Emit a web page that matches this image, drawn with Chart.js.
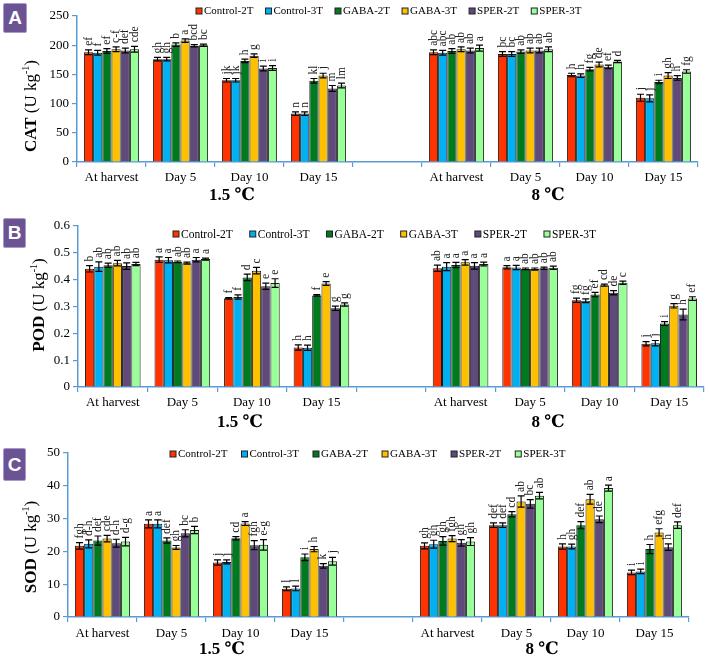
<!DOCTYPE html>
<html>
<head>
<meta charset="utf-8">
<script src="https://cdn.jsdelivr.net/npm/chart.js@4.4.1/dist/chart.umd.min.js"></script>
<style>
  html, body { margin: 0; padding: 0; background: #fff; }
  #wrap { position: relative; width: 709px; height: 661px; overflow: hidden; }
  .panel { position: absolute; left: 0; width: 709px; }
  .badge {
    position: absolute; background: #6b5394; border: 1.5px solid #a898cc;
    border-radius: 2px; color: #fff; font: bold 19px "Liberation Sans", Arial, sans-serif;
    display: flex; align-items: center; justify-content: center; box-sizing: border-box;
  }
</style>
</head>
<body>
<div id="wrap">
  <div class="panel" id="pA" style="top:0;height:215px"><canvas id="chartA"></canvas></div>
  <div class="panel" id="pB" style="top:215px;height:225px"><canvas id="chartB"></canvas></div>
  <div class="panel" id="pC" style="top:440px;height:221px"><canvas id="chartC"></canvas></div>
  <div class="badge" style="left:3px;top:3px;width:24px;height:30px">A</div>
  <div class="badge" style="left:3px;top:218px;width:23px;height:30px">B</div>
  <div class="badge" style="left:3px;top:448px;width:23px;height:33px">C</div>
</div>

<script>
// -------------------------
//        DATA
// -------------------------

const categories = ["At harvest", "Day 5", "Day 10", "Day 15", "", "At harvest", "Day 5", "Day 10", "Day 15"];
const seriesNames = ["Control-2T", "Control-3T", "GABA-2T", "GABA-3T", "SPER-2T", "SPER-3T"];
const seriesColors = ["#ff3300", "#00b0f0", "#007a1e", "#ffc000", "#604a7b", "#99ff99"];

// CAT (U kg-1), one row per series
const catMeans = [
    [188, 176, 140, 83, null, 188, 185, 149, 110],
    [187, 176, 140, 83, null, 187, 185, 148, 109],
    [190, 201, 173, 139, null, 190, 189, 159, 137],
    [193, 208, 182, 148, null, 193, 191, 167, 148],
    [191, 199, 160, 126, null, 191, 191, 163, 144],
    [193, 200, 161, 131, null, 195, 193, 172, 155]
];
const catErrors = [
    [4, 3, 3, 3, null, 4, 4, 3, 6],
    [4, 3, 3, 3, null, 4, 4, 3, 6],
    [4, 3, 3, 4, null, 4, 3, 3, 3],
    [4, 3, 3, 4, null, 4, 4, 4, 5],
    [4, 2, 4, 5, null, 4, 4, 3, 4],
    [5, 2, 4, 4, null, 5, 4, 2, 3]
];
// letters, one row per category
const catLetters = [
    ["ef", "f", "ef", "c-f", "def", "cde"],
    ["gh", "gh", "b", "a", "bcd", "bc"],
    ["jk", "jk", "h", "g", "i", "i"],
    ["n", "n", "kl", "j", "m", "lm"],
    [],
    ["abc", "abc", "ab", "ab", "ab", "a"],
    ["bc", "bc", "ab", "ab", "ab", "ab"],
    ["h", "h", "fg", "de", "ef", "d"],
    ["j", "j", "i", "gh", "h", "fg"]
];

// POD (U kg-1)
const podMeans = [
    [0.440, 0.474, 0.330, 0.147, null, 0.442, 0.446, 0.323, 0.161],
    [0.448, 0.472, 0.335, 0.146, null, 0.448, 0.445, 0.321, 0.163],
    [0.453, 0.466, 0.408, 0.341, null, 0.454, 0.440, 0.344, 0.236],
    [0.461, 0.461, 0.433, 0.385, null, 0.464, 0.439, 0.379, 0.302],
    [0.450, 0.474, 0.375, 0.293, null, 0.451, 0.442, 0.351, 0.270],
    [0.458, 0.476, 0.387, 0.307, null, 0.458, 0.444, 0.388, 0.329]
];
const podErrors = [
    [0.012, 0.010, 0.003, 0.010, null, 0.012, 0.006, 0.008, 0.008],
    [0.018, 0.010, 0.008, 0.010, null, 0.015, 0.008, 0.007, 0.010],
    [0.008, 0.003, 0.012, 0.003, null, 0.010, 0.003, 0.008, 0.007],
    [0.010, 0.004, 0.012, 0.007, null, 0.010, 0.004, 0.004, 0.008],
    [0.012, 0.008, 0.012, 0.008, null, 0.012, 0.004, 0.008, 0.020],
    [0.006, 0.004, 0.016, 0.006, null, 0.007, 0.006, 0.006, 0.007]
];
const podLetters = [
    ["b", "ab", "ab", "ab", "ab", "ab"],
    ["a", "a", "ab", "ab", "a", "a"],
    ["f", "f", "d", "c", "e", "e"],
    ["h", "h", "f", "e", "g", "g"],
    [],
    ["ab", "a", "a", "a", "a", "a"],
    ["a", "a", "ab", "ab", "ab", "ab"],
    ["fg", "fg", "ef", "cd", "de", "c"],
    ["j", "j", "i", "g", "h", "ef"]
];

// SOD (U kg-1)
const sodMeans = [
    [21.7, 28.4, 16.6, 8.6, null, 21.7, 28.0, 21.5, 13.6],
    [22.3, 28.4, 16.8, 8.7, null, 22.2, 28.0, 21.5, 13.9],
    [23.3, 23.3, 24.0, 18.2, null, 23.2, 31.3, 28.0, 20.7],
    [23.9, 21.2, 28.5, 20.7, null, 23.9, 35.2, 35.9, 25.8],
    [22.5, 25.5, 21.9, 15.6, null, 22.6, 34.5, 29.8, 21.3],
    [23.0, 26.5, 22.0, 17.0, null, 23.0, 37.0, 39.3, 28.0]
];
const sodErrors = [
    [1.0, 1.2, 0.8, 0.6, null, 0.9, 0.7, 0.8, 0.7],
    [1.2, 1.2, 0.6, 0.7, null, 1.2, 0.7, 0.7, 0.7],
    [1.4, 0.8, 0.5, 1.0, null, 1.3, 0.8, 1.1, 1.4],
    [1.0, 0.6, 0.6, 0.8, null, 0.9, 1.7, 1.5, 1.1],
    [1.2, 1.1, 1.4, 0.7, null, 1.0, 1.3, 1.0, 1.0],
    [1.3, 1.1, 1.6, 1.2, null, 1.2, 1.0, 0.9, 1.0]
];
const sodLetters = [
    ["fgh", "d-h", "def", "cde", "d-h", "d-g"],
    ["a", "a", "def", "gh", "bc", "b"],
    ["j", "j", "cd", "a", "fgh", "e-g"],
    ["l", "l", "i", "h", "k", "j"],
    [],
    ["gh", "gh", "gh", "fgh", "gh", "gh"],
    ["def", "def", "cd", "ab", "bc", "ab"],
    ["h", "gh", "def", "ab", "de", "a"],
    ["i", "i", "h", "efg", "h", "def"]
];

const groupNames = ["1.5 \u2103", "8 \u2103"];

// -------------------------
//      DRAWING HELPERS
// -------------------------

const SERIF = "'Liberation Serif', 'Times New Roman', 'DejaVu Serif', serif";
const AXIS_BLUE = "#5b9bd5";

const overlayPlugin = {
    id: "overlay",
    afterDatasetsDraw(chart) {
        const p = chart.options.plugins.overlay;
        const ctx = chart.ctx;
        const yScale = chart.scales.y;
        ctx.save();
        chart.data.datasets.forEach((ds, d) => {
            const meta = chart.getDatasetMeta(d);
            meta.data.forEach((bar, j) => {
                const v = ds.data[j];
                if (v === null) return;
                const e = p.errors[d][j];
                const yTop = yScale.getPixelForValue(v + e);
                const yBot = yScale.getPixelForValue(v - e);
                ctx.strokeStyle = "#000";
                ctx.lineWidth = 1.2;
                ctx.beginPath();
                ctx.moveTo(bar.x, yTop); ctx.lineTo(bar.x, yBot);
                ctx.moveTo(bar.x - 3.5, yTop); ctx.lineTo(bar.x + 3.5, yTop);
                ctx.moveTo(bar.x - 3.5, yBot); ctx.lineTo(bar.x + 3.5, yBot);
                ctx.stroke();

                const label = (p.letters[j] || [])[d];
                if (label) {
                    ctx.save();
                    ctx.translate(bar.x, yTop - 4);
                    ctx.rotate(-Math.PI / 2);
                    ctx.fillStyle = "#222";
                    ctx.font = "11.5px " + SERIF;
                    ctx.textAlign = "left";
                    ctx.textBaseline = "middle";
                    ctx.fillText(label, 0, 0);
                    ctx.restore();
                }
            });
        });
        ctx.restore();
    },
    afterDraw(chart) {
        const p = chart.options.plugins.overlay;
        const ctx = chart.ctx;
        ctx.save();

        // legend
        let x = p.legend.x;
        ctx.font = p.legend.size + "px " + SERIF;
        ctx.textBaseline = "middle";
        ctx.textAlign = "left";
        seriesNames.forEach((name, i) => {
            ctx.fillStyle = seriesColors[i];
            ctx.fillRect(x, p.legend.y - 3, 6, 6);
            ctx.strokeStyle = "#222";
            ctx.lineWidth = 1;
            ctx.strokeRect(x, p.legend.y - 3, 6, 6);
            ctx.fillStyle = "#000";
            ctx.fillText(name, x + 8, p.legend.y + 0.5);
            x += 8 + ctx.measureText(name).width + p.legend.gap;
        });

        // y axis title with superscript
        ctx.translate(p.title.x, p.title.y);
        ctx.rotate(-Math.PI / 2);
        const bold = "bold 17px " + SERIF, reg = "17px " + SERIF, sup = "10px " + SERIF;
        const parts = [[p.title.name, bold, 0], [" (U kg", reg, 0], ["-1", sup, -6], [")", reg, 0]];
        let w = 0;
        parts.forEach(([t, f]) => { ctx.font = f; w += ctx.measureText(t).width; });
        let tx = -w / 2;
        ctx.fillStyle = "#000";
        parts.forEach(([t, f, dy]) => {
            ctx.font = f;
            ctx.fillText(t, tx, dy);
            tx += ctx.measureText(t).width;
        });
        ctx.setTransform(chart.currentDevicePixelRatio, 0, 0, chart.currentDevicePixelRatio, 0, 0);

        // temperature group labels
        ctx.font = "bold 17px " + SERIF;
        ctx.textAlign = "center";
        ctx.fillStyle = "#000";
        p.groups.forEach((g, i) => ctx.fillText(groupNames[i], g.x, g.y));
        ctx.restore();
    }
};

function buildChart(canvasId, cfg) {
    const datasets = seriesNames.map((name, i) => ({
        label: name,
        data: cfg.means[i],
        backgroundColor: seriesColors[i],
        borderColor: "#1a1a1a",
        borderWidth: 1,
        categoryPercentage: 0.8,
        barPercentage: 1.0
    }));

    return new Chart(document.getElementById(canvasId), {
        type: "bar",
        data: { labels: categories, datasets },
        plugins: [overlayPlugin],
        options: {
            responsive: true,
            maintainAspectRatio: false,
            animation: false,
            layout: { padding: { top: cfg.plotTop, left: 0, right: 709 - cfg.right, bottom: 0 } },
            plugins: {
                legend: { display: false },
                tooltip: { enabled: false },
                overlay: {
                    errors: cfg.errors,
                    letters: cfg.letters,
                    legend: cfg.legend,
                    title: cfg.title,
                    groups: cfg.groups
                }
            },
            scales: {
                x: {
                    type: "category",
                    offset: true,
                    grid: { offset: true, drawOnChartArea: false, drawTicks: true, tickLength: 5, color: AXIS_BLUE, lineWidth: 1.2 },
                    border: { color: AXIS_BLUE, width: 1.5 },
                    ticks: { color: "#000", font: { family: SERIF, size: 13 }, padding: cfg.xPad, maxRotation: 0, autoSkip: false },
                    afterFit(s) { s.height = cfg.height - cfg.plotBottom; }
                },
                y: {
                    min: 0,
                    max: cfg.yMax,
                    grid: { drawOnChartArea: false, drawTicks: true, tickLength: 5, color: AXIS_BLUE, lineWidth: 1.2 },
                    border: { color: AXIS_BLUE, width: 1.5 },
                    ticks: { stepSize: cfg.yStep, color: "#000", font: { family: SERIF, size: 13 }, padding: 3 },
                    afterFit(s) { s.width = cfg.left; }
                }
            }
        }
    });
}

// -------------------------
//        PANELS
// -------------------------

buildChart("chartA", {
    means: catMeans, errors: catErrors, letters: catLetters,
    height: 215, left: 77, right: 698, plotTop: 16, plotBottom: 162, xPad: 3,
    yMax: 250, yStep: 50,
    legend: { x: 196, y: 11, size: 11, gap: 12 },
    title: { name: "CAT", x: 32, y: 106 },
    groups: [{ x: 232, y: 196 }, { x: 548, y: 196 }]
});

buildChart("chartB", {
    means: podMeans, errors: podErrors, letters: podLetters,
    height: 225, left: 78, right: 704, plotTop: 9, plotBottom: 172, xPad: 3,
    yMax: 0.6, yStep: 0.1,
    legend: { x: 173, y: 19, size: 11.5, gap: 17 },
    title: { name: "POD", x: 40, y: 90 },
    groups: [{ x: 240, y: 208 }, { x: 548, y: 208 }]
});

buildChart("chartC", {
    means: sodMeans, errors: sodErrors, letters: sodLetters,
    height: 221, left: 68, right: 689, plotTop: 13, plotBottom: 177, xPad: 4,
    yMax: 50, yStep: 10,
    legend: { x: 170, y: 14, size: 11, gap: 14 },
    title: { name: "SOD", x: 32, y: 107 },
    groups: [{ x: 222, y: 210 }, { x: 542, y: 210 }]
});
</script>
</body>
</html>
